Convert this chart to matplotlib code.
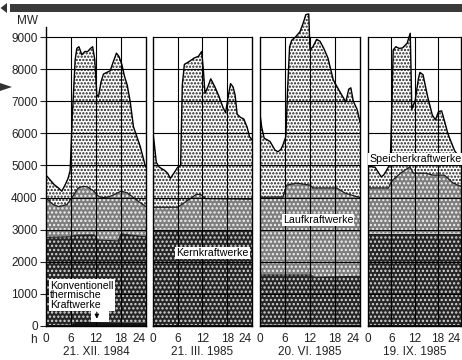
import numpy as np
import matplotlib
matplotlib.use('Agg')
import matplotlib.pyplot as plt
from matplotlib.patches import Polygon, Rectangle

plt.rcParams['font.family'] = ['Liberation Sans', 'DejaVu Sans']
plt.rcParams['hatch.linewidth'] = 1.1

# --- data (MW against hour of day) ---
dates = ["21. XII. 1984", "21. III. 1985", "20. VI. 1985", "19. IX. 1985"]
hour_ticks = [0, 6, 12, 18, 24]
mw_ticks = [0, 1000, 2000, 3000, 4000, 5000, 6000, 7000, 8000, 9000]

# total load (top of Speicherkraftwerke)
total_h = [
    [0, 1, 2, 3, 3.8, 4.6, 5.3, 5.8, 6.3, 7.0, 7.4, 7.9, 8.6, 9.3, 10.0, 10.7, 11.2, 11.7,
     12.2, 12.6, 13.2, 13.8, 15.4, 16.2, 16.9, 17.5, 18.2, 18.8, 19.5, 20.2, 21.0, 22.6, 23.8, 24],
    [0, 0.3, 0.8, 1.5, 2.8, 3.6, 4.2, 5.0, 6.0, 6.7, 7.1, 7.6, 8.9, 10.0, 11.0, 11.8, 12.2, 12.6,
     13.3, 14.0, 15.0, 16.0, 17.0, 17.6, 18.3, 18.8, 19.4, 19.9, 20.4, 21.2, 22.0, 22.8, 23.4, 24],
    [0, 0.4, 1.0, 2.4, 3.6, 4.3, 5.0, 5.5, 6.2, 6.6, 7.1, 7.6, 8.5, 9.6, 10.4, 11.0, 11.7, 12.0,
     12.7, 13.6, 14.4, 15.3, 16.3, 17.6, 19.2, 20.6, 21.3, 21.8, 22.4, 23.3, 24],
    [0, 1.0, 1.8, 2.6, 3.4, 4.0, 4.6, 5.3, 5.8, 6.2, 6.5, 7.2, 8.0, 8.9, 10.1, 10.9, 11.1, 11.3,
     12.2, 13.0, 13.4, 14.2, 15.4, 16.6, 17.4, 18.2, 19.0, 19.8, 20.6, 21.4, 22.4, 24],
]
total_mw = [
    [4700, 4550, 4400, 4300, 4200, 4400, 4600, 4850, 6500, 8300, 8650, 8700, 8450, 8550, 8550,
     8650, 8700, 8300, 7200, 7150, 7600, 7850, 7950, 8250, 8500, 8400, 8150, 7800, 7500, 7000,
     6200, 5600, 5000, 4950],
    [6000, 5700, 5100, 4950, 4850, 4750, 4600, 4750, 4950, 5000, 7500, 8150, 8250, 8350, 8400,
     8550, 8000, 7250, 7450, 7700, 7450, 7150, 6800, 6650, 7200, 7550, 7450, 7200, 6600, 6500,
     6450, 6200, 5900, 5800],
    [6600, 6200, 5850, 5750, 5480, 5430, 5500, 5640, 5900, 7300, 8700, 8900, 9000, 9170, 9450,
     9700, 9720, 8600, 8700, 8930, 8870, 8650, 8350, 7660, 7290, 6980, 7380, 7420, 7000, 6750,
     6350],
    [5000, 4960, 4950, 4800, 4650, 4700, 4810, 4960, 5300, 7000, 8600, 8700, 8650, 8660, 8810,
     9120, 8000, 6750, 7040, 7700, 7900, 7830, 7140, 6570, 6420, 6680, 6700, 6360, 6000, 5750,
     5450, 5200],
]

# top of Laufkraftwerke
lauf_h = [
    [0, 1.5, 3, 5, 6.5, 7.7, 9, 10, 11.5, 12.5, 13.5, 15, 16.5, 18, 19.5, 21, 22.5, 24],
    [0, 6, 8, 10.5, 11.5, 12.8, 24],
    [0, 5.5, 6.4, 8.8, 12.0, 12.7, 18.4, 20.4, 23.2, 24],
    [0, 5.3, 6.0, 8.4, 10.8, 11.7, 14.9, 16.8, 19.7, 22, 24],
]
lauf_mw = [
    [4000, 3800, 3720, 3780, 4050, 4300, 4350, 4330, 4200, 4050, 4000, 4020, 4100, 4200, 4150,
     4000, 3850, 3720],
    [3700, 3700, 3880, 4100, 4100, 3970, 3950],
    [4010, 4020, 4390, 4450, 4390, 4300, 4300, 4140, 4030, 4000],
    [4300, 4300, 4500, 4760, 4960, 4760, 4760, 4700, 4700, 4450, 4350],
]

# top of Kernkraftwerke
kern_h = [
    [0, 6, 7, 11.5, 12.5, 17.3, 18, 24],
    [0, 24],
    [0, 12.3, 13, 24],
    [0, 24],
]
kern_mw = [
    [2760, 2780, 2830, 2840, 2680, 2650, 2870, 2780],
    [3000, 3000],
    [1590, 1590, 1520, 1550],
    [2880, 2880],
]

# top of konventionell-thermische Kraftwerke
konv_h = [[0, 6, 7, 24], [0, 24], [0, 24], [0, 24]]
konv_mw = [[30, 40, 130, 110], [40, 40], [40, 40], [40, 40]]

# --- layout (pixels of the 462x360 picture) ---
W, H = 462, 360
panel_x = [46, 153, 260, 368]
panel_w = [100, 99, 100, 93]
y_zero = 326
px_per_1000 = 32.1

fig = plt.figure(figsize=(W / 100, H / 100), dpi=100)


def band(ax, h_lo, v_lo, h_hi, v_hi, **kw):
    xs = np.r_[h_hi, h_lo[::-1]]
    ys = np.r_[v_hi, v_lo[::-1]]
    ax.fill(xs, ys, lw=0, **kw)


axes = []
for i in range(4):
    ax_h = 10000 * px_per_1000 / 1000
    ax = fig.add_axes([panel_x[i] / W, (H - y_zero) / H, panel_w[i] / W, ax_h / H])
    ax.set_xlim(0, 24)
    ax.set_ylim(0, 10000)
    ax.patch.set_alpha(0)

    band(ax, [0, 24], [0, 0], konv_h[i], konv_mw[i], fc='#121212', zorder=1)
    band(ax, konv_h[i], konv_mw[i], kern_h[i], kern_mw[i],
         fc='#262626', hatch='....', ec='#d8d8d8', zorder=1)
    band(ax, kern_h[i], kern_mw[i], lauf_h[i], lauf_mw[i],
         fc='#7e7e7e', hatch='....', ec='#f2f2f2', zorder=1)
    band(ax, lauf_h[i], lauf_mw[i], total_h[i], total_mw[i],
         fc='white', hatch='.....', ec='#1e1e1e', zorder=1)

    ax.plot(kern_h[i], kern_mw[i], color='#1a1a1a', lw=0.7, zorder=3)
    ax.plot(lauf_h[i], lauf_mw[i], color='#1a1a1a', lw=0.9, zorder=3)
    ax.plot(total_h[i], total_mw[i], color='black', lw=1.0, zorder=4)

    # grid
    ax.hlines(mw_ticks[1:], 0, 24, color='black', lw=0.8, zorder=5)
    ax.vlines([6, 12, 18], 0, 9000, color='black', lw=0.8, zorder=5)

    for s in ['left', 'right', 'bottom']:
        ax.spines[s].set_linewidth(1.0)
        ax.spines[s].set_zorder(6)
    ax.spines['top'].set_visible(False)
    ax.spines['left'].set_bounds(0, 9300 if i == 0 else 9000)
    ax.spines['right'].set_bounds(0, 9000)

    ax.set_xticks(hour_ticks)
    ax.set_xticklabels([str(t) for t in hour_ticks])
    ax.tick_params(axis='x', length=0, pad=5, labelsize=8.5, colors='#222')
    ax.get_xticklabels()[-1].set_horizontalalignment('right')

    if i == 0:
        ax.set_yticks(mw_ticks)
        ax.set_yticklabels([str(t) for t in mw_ticks])
        ax.tick_params(axis='y', length=4, width=0.8, pad=2, labelsize=8.5, colors='#222')
    else:
        ax.set_yticks([])

    fig.text((panel_x[i] + panel_w[i] / 2) / W, 1 - 352 / H, dates[i],
             ha='center', va='center', fontsize=8.5, color='#222')
    axes.append(ax)

box = dict(fc='white', ec='none', pad=0.8)
axes[0].text(1.0, 960, "Konventionell\nthermische\nKraftwerke", fontsize=7.6,
             ha='left', va='center', linespacing=0.95, bbox=box, zorder=10)
# white notch round the arrow
axes[0].add_patch(Rectangle((10.8, 140), 4.2, 560, fc='white', ec='none', zorder=9))
axes[0].annotate('', xy=(12.2, 140), xytext=(12.2, 520),
                 arrowprops=dict(arrowstyle='-|>', color='black', lw=0.8,
                                 mutation_scale=6), zorder=11)
axes[1].text(5.6, 2270, "Kernkraftwerke", fontsize=7.7, ha='left', va='center',
             bbox=box, zorder=10, clip_on=False)
axes[2].text(5.5, 3300, "Laufkraftwerke", fontsize=7.7, ha='left', va='center',
             bbox=box, zorder=10)
axes[3].text(0.25, 5200, "Speicherkraftwerke", fontsize=7.7, ha='left', va='center',
             bbox=box, zorder=10, clip_on=False)

fig.text(27 / W, 1 - 21 / H, "MW", ha='center', va='center', fontsize=8.5, color='#222')
fig.text(33 / W, 1 - 340 / H, "h", ha='center', va='center', fontsize=8.5, color='#222')

# dark bar across the top and the two margin marks of the scan
fig.patches.append(Rectangle((10 / W, 1 - 12 / H), 1, 8 / H, transform=fig.transFigure,
                             fc='#3a3a3a', ec='none'))
fig.patches.append(Polygon([[0.5 / W, 1 - 8 / H], [7 / W, 1 - 3 / H], [7 / W, 1 - 13 / H]],
                           closed=True, transform=fig.transFigure, fc='#333', ec='none'))
fig.patches.append(Polygon([[12 / W, 1 - 87 / H], [0, 1 - 83 / H], [0, 1 - 91 / H]],
                           closed=True, transform=fig.transFigure, fc='#333', ec='none'))

fig.savefig('out.png', dpi=100)
plt.close(fig)
